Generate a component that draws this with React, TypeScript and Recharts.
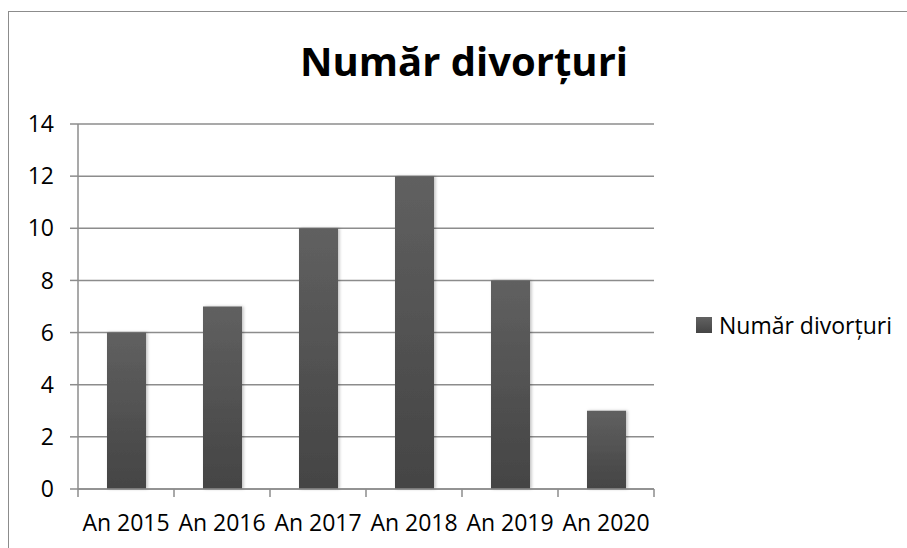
import { Bar, BarChart, CartesianGrid, XAxis, YAxis } from "recharts";

const categories = ["An 2015", "An 2016", "An 2017", "An 2018", "An 2019", "An 2020"];
const divorces = [6, 7, 10, 12, 8, 3];
const yTicks = [0, 2, 4, 6, 8, 10, 12, 14];
const seriesName = "Număr divorțuri";
const title = "Număr divorțuri";

const data = categories.map((name, i) => ({ name, value: divorces[i] }));

const FONT = "'Open Sans', sans-serif";
const GRID = "#8c8c8c";

function CategoryTick(props: any) {
  const { x, y, payload, index } = props;
  const half = payload.offset ?? 0;
  const last = index === categories.length - 1;
  return (
    <g>
      <line x1={x - half} y1={y - 8} x2={x - half} y2={y} stroke={GRID} strokeWidth={1.5} />
      {last && (
        <line x1={x + half} y1={y - 8} x2={x + half} y2={y} stroke={GRID} strokeWidth={1.5} />
      )}
      <text x={x} y={y + 34} textAnchor="middle" fontFamily={FONT} fontSize={23} fill="#000">
        {payload.value}
      </text>
    </g>
  );
}

function LegendBox() {
  return (
    <div
      style={{
        position: "absolute",
        left: 696,
        top: 309,
        display: "flex",
        alignItems: "center",
        fontFamily: FONT,
        fontSize: 23,
        lineHeight: "32px",
      }}
    >
      <svg width={16} height={16} style={{ marginRight: 7 }}>
        <defs>
          <linearGradient id="legendGrad" x1="0" y1="0" x2="0" y2="1">
            <stop offset="0%" stopColor="#626262" />
            <stop offset="100%" stopColor="#444444" />
          </linearGradient>
        </defs>
        <rect width={16} height={16} fill="url(#legendGrad)" />
      </svg>
      <span style={{ color: "#000" }}>{seriesName}</span>
    </div>
  );
}

export default function App() {
  return (
    <div style={{ position: "absolute", left: 0, top: 0, width: 907, height: 548, background: "#fff", overflow: "hidden" }}>
      <div
        style={{
          position: "absolute",
          left: 8,
          top: 11,
          width: 920,
          height: 560,
          border: `1.5px solid ${GRID}`,
          boxSizing: "border-box",
        }}
      />
      <svg width={907} height={100} style={{ position: "absolute", left: 0, top: 0 }}>
        <text x={464} y={76} textAnchor="middle" fontFamily={FONT} fontWeight={700} fontSize={40} fill="#000">
          {title}
        </text>
      </svg>
      <div style={{ position: "absolute", left: 0, top: 0 }}>
        <BarChart
          width={907}
          height={548}
          data={data}
          margin={{ top: 124, right: 253, bottom: 0, left: 0 }}
          barCategoryGap={0}
        >
          <defs>
            <linearGradient id="barGrad" x1="0" y1="0" x2="0" y2="1">
              <stop offset="0%" stopColor="#606060" />
              <stop offset="100%" stopColor="#444444" />
            </linearGradient>
            <filter id="barShadow" x="-20%" y="-5%" width="140%" height="110%">
              <feDropShadow dx={1.5} dy={0} stdDeviation={1.5} floodColor="#000" floodOpacity={0.25} />
            </filter>
          </defs>
          <CartesianGrid vertical={false} stroke={GRID} strokeWidth={1.5} />
          <XAxis
            dataKey="name"
            height={59}
            axisLine={{ stroke: GRID, strokeWidth: 1.5 }}
            tickLine={false}
            tick={<CategoryTick />}
            interval={0}
          />
          <YAxis
            width={78}
            domain={[0, 14]}
            ticks={yTicks}
            interval={0}
            axisLine={{ stroke: GRID, strokeWidth: 1.5 }}
            tickLine={{ stroke: GRID, strokeWidth: 1.5 }}
            tickSize={8}
            tickMargin={16}
            tick={{ fill: "#000", fontSize: 23, fontFamily: FONT }}
          />
          <Bar
            dataKey="value"
            name={seriesName}
            barSize={39}
            fill="url(#barGrad)"
            filter="url(#barShadow)"
            isAnimationActive={false}
          />
        </BarChart>
      </div>
      <LegendBox />
    </div>
  );
}
